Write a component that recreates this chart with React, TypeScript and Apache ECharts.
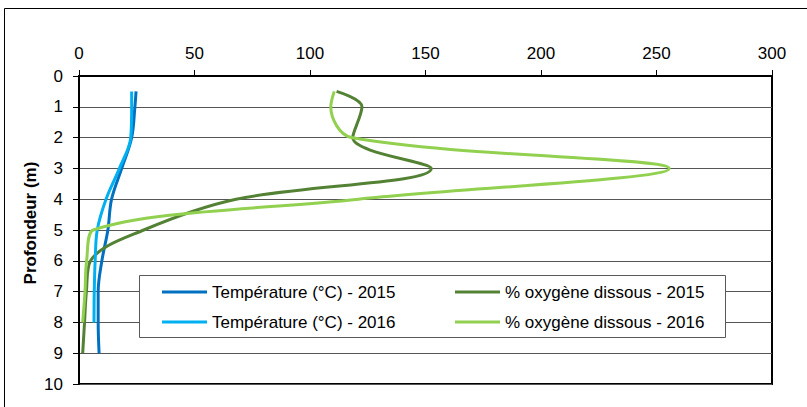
import React, { useEffect, useRef } from "react";
import * as echarts from "echarts";

const depths = [0.5, 1, 2, 3, 4, 5, 6, 7, 8, 9];
const temp2015 = [24.7, 24.2, 22.8, 18.5, 14.1, 12.5, 9.9, 8.3, 8.3, 8.7];
const temp2016 = [22.8, 22.8, 22.4, 17.5, 11.7, 7.9, 7.0, 6.6, 6.5];
const oxy2015 = [111.5, 122.5, 118.5, 152.5, 68, 28, 5, 3.2, 2.4, 1.6];
const oxy2016 = [110.5, 109, 118, 255.5, 121, 6.2, 3.3, 2.6, 1.6];
const seriesNames = [
  "Température (°C) - 2015",
  "% oxygène dissous - 2015",
  "Température (°C) - 2016",
  "% oxygène dissous - 2016",
];
const yTitle = "Profondeur (m)";

const FONT = "'Liberation Sans', Arial, sans-serif";

function pairs(vals: number[]) {
  return vals.map((v, i) => [v, depths[i]]);
}

export default function App() {
  const ref = useRef<HTMLDivElement>(null);
  useEffect(() => {
    if (!ref.current) return;
    const chart = echarts.init(ref.current, null, { renderer: "svg" });
    const mk = (name: string, vals: number[], color: string) => ({
      name,
      type: "line",
      data: pairs(vals),
      smooth: 0.35,
      symbol: "none",
      showSymbol: false,
      lineStyle: { width: 3, color },
      itemStyle: { color },
      z: 2,
    });
    chart.setOption({
      animation: false,
      backgroundColor: "#fff",
      textStyle: { fontFamily: FONT },
      grid: {
        left: 79,
        right: 35,
        top: 76,
        bottom: 23,
        show: true,
        borderColor: "#000",
        borderWidth: 2,
        backgroundColor: "transparent",
      },
      xAxis: {
        type: "value",
        position: "top",
        min: 0,
        max: 300,
        interval: 50,
        axisLine: { show: true, lineStyle: { color: "#000", width: 2 } },
        axisTick: { show: true, length: 6, lineStyle: { color: "#000" } },
        axisLabel: { fontSize: 17, color: "#000", margin: 14, fontFamily: FONT },
        splitLine: { show: false },
      },
      yAxis: {
        type: "value",
        inverse: true,
        min: 0,
        max: 10,
        interval: 1,
        axisLine: { show: true, lineStyle: { color: "#000", width: 2 } },
        axisTick: { show: true, length: 6, lineStyle: { color: "#000" } },
        axisLabel: { fontSize: 17, color: "#000", margin: 16, fontFamily: FONT },
        splitLine: { show: true, lineStyle: { color: "#555", width: 1 } },
      },
      legend: {
        data: seriesNames,
        left: 162,
        top: 283,
        width: 620,
        padding: 0,
        itemGap: 12,
        itemWidth: 45,
        itemHeight: 3,
        icon: "rect",
        z: 6,
        textStyle: {
          fontSize: 17,
          color: "#000",
          fontFamily: FONT,
          width: 231,
          lineHeight: 18,
        },
      },
      graphic: [
        {
          type: "rect",
          shape: { x: 4.5, y: 8.5, width: 900, height: 500 },
          style: { fill: "none", stroke: "#000", lineWidth: 1 },
          z: 1,
          silent: true,
        },
        {
          type: "rect",
          shape: { x: 139.5, y: 275.5, width: 586, height: 62 },
          style: { fill: "#fff", stroke: "#595959", lineWidth: 1 },
          z: 3,
          silent: true,
        },
        {
          type: "text",
          x: 30.5,
          y: 223,
          rotation: Math.PI / 2,
          style: {
            text: yTitle,
            font: `bold 17px ${FONT}`,
            fill: "#000",
            align: "center",
            verticalAlign: "middle",
          },
          z: 5,
        },
      ],
      series: [
        mk(seriesNames[0], temp2015, "#0070C0"),
        mk(seriesNames[1], oxy2015, "#548235"),
        mk(seriesNames[2], temp2016, "#00B0F0"),
        mk(seriesNames[3], oxy2016, "#92D050"),
      ],
    });
    return () => chart.dispose();
  }, []);
  return (
    <div
      ref={ref}
      style={{ position: "absolute", left: 0, top: 0, width: 807, height: 407 }}
    />
  );
}
